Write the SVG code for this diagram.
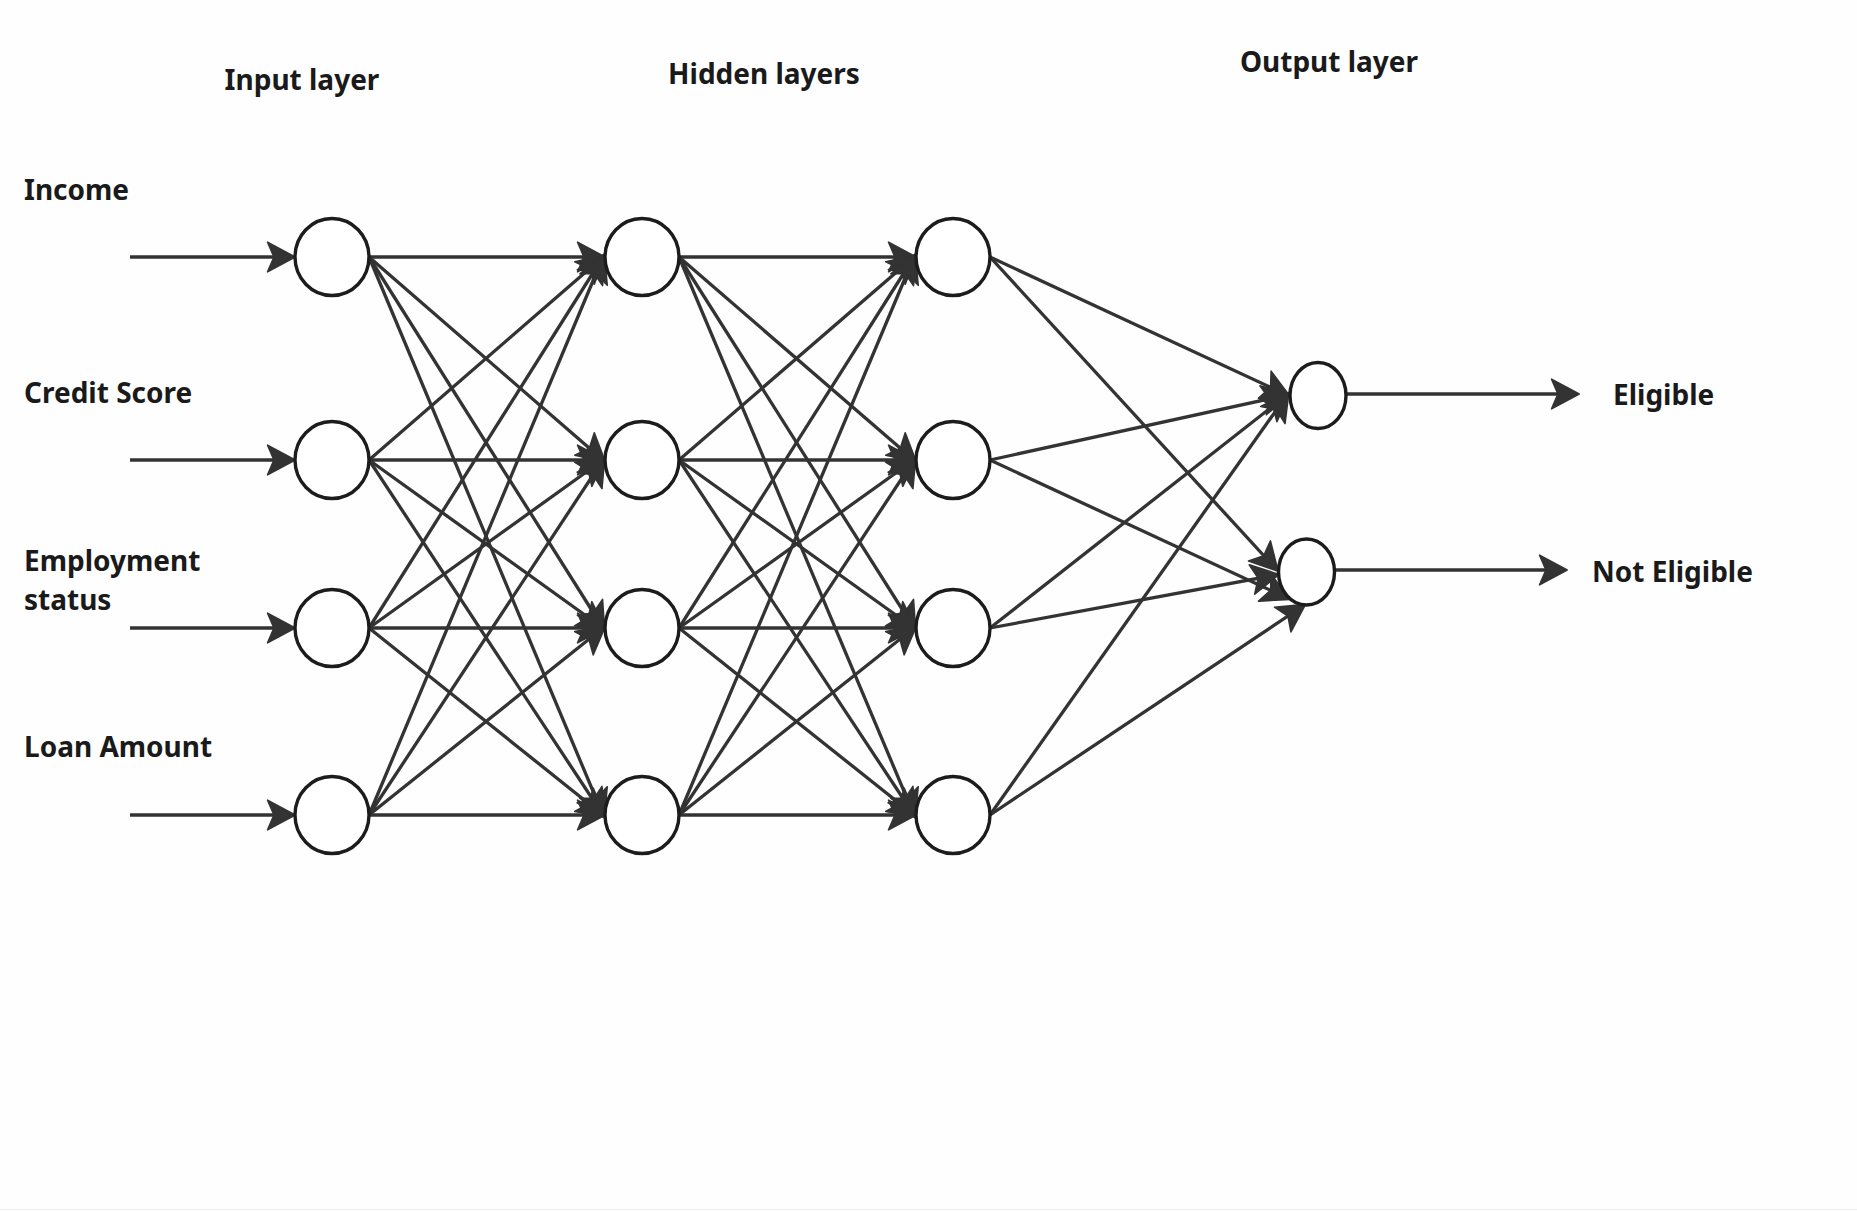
<svg xmlns="http://www.w3.org/2000/svg" width="1857" height="1211" viewBox="0 0 1857 1211">
<style>
  .bg { fill: #fefefe; }
  .node { fill: #ffffff; stroke: #1c1c1c; stroke-width: 3.4; }
  .c { fill: none; stroke: #333333; stroke-width: 3.3; marker-end: url(#ah); }
  .lbl { font-family: "Noto Sans", "Open Sans", "Liberation Sans", sans-serif; font-weight: 700; font-size: 28px; fill: #1a1a1a; }
  .mid { text-anchor: middle; }
</style>
<defs>
  <marker id="ah" markerUnits="userSpaceOnUse" markerWidth="34" markerHeight="34" viewBox="-26 -16 32 32" refX="0" refY="0" orient="auto">
    <path d="M3,0 L-23,-14 L-17,0 L-23,14 Z" fill="#333333" stroke="#333333" stroke-width="1.5" stroke-linejoin="round"/>
  </marker>
</defs>
<rect class="bg" x="0" y="0" width="1857" height="1211"/>
<line x1="0" y1="1209.5" x2="1857" y2="1209.5" stroke="#eeeeee" stroke-width="1"/>

<g id="headers">
  <text class="lbl mid" x="302" y="90">Input layer</text>
  <text class="lbl mid" x="764" y="84">Hidden layers</text>
  <text class="lbl mid" x="1329" y="72">Output layer</text>
</g>

<g id="input-labels">
  <text class="lbl" x="24" y="200">Income</text>
  <text class="lbl" x="24" y="403">Credit Score</text>
  <text class="lbl" x="24" y="571">Employment</text>
  <text class="lbl" x="24" y="610">status</text>
  <text class="lbl" x="24" y="757">Loan Amount</text>
</g>

<g id="output-labels">
  <text class="lbl" x="1613" y="405">Eligible</text>
  <text class="lbl" x="1592" y="582">Not Eligible</text>
</g>

<g id="connectors">
  <!-- inputs -->
  <path class="c" d="M130,257 L292,257"/>
  <path class="c" d="M130,460 L292,460"/>
  <path class="c" d="M130,628 L292,628"/>
  <path class="c" d="M130,815 L292,815"/>
  <!-- input -> hidden 1 -->
  <path class="c" d="M369,257 L602,257"/>
  <path class="c" d="M369,257 L603,460"/>
  <path class="c" d="M369,257 L603,628"/>
  <path class="c" d="M369,257 L603,815"/>
  <path class="c" d="M369,460 L603,257"/>
  <path class="c" d="M369,460 L602,460"/>
  <path class="c" d="M369,460 L603,628"/>
  <path class="c" d="M369,460 L603,815"/>
  <path class="c" d="M369,628 L603,257"/>
  <path class="c" d="M369,628 L603,460"/>
  <path class="c" d="M369,628 L602,628"/>
  <path class="c" d="M369,628 L603,815"/>
  <path class="c" d="M369,815 L603,257"/>
  <path class="c" d="M369,815 L603,460"/>
  <path class="c" d="M369,815 L603,628"/>
  <path class="c" d="M369,815 L602,815"/>
  <!-- hidden 1 -> hidden 2 -->
  <path class="c" d="M679,257 L913,257"/>
  <path class="c" d="M679,257 L914,460"/>
  <path class="c" d="M679,257 L914,628"/>
  <path class="c" d="M679,257 L914,815"/>
  <path class="c" d="M679,460 L914,257"/>
  <path class="c" d="M679,460 L913,460"/>
  <path class="c" d="M679,460 L914,628"/>
  <path class="c" d="M679,460 L914,815"/>
  <path class="c" d="M679,628 L914,257"/>
  <path class="c" d="M679,628 L914,460"/>
  <path class="c" d="M679,628 L913,628"/>
  <path class="c" d="M679,628 L914,815"/>
  <path class="c" d="M679,815 L914,257"/>
  <path class="c" d="M679,815 L914,460"/>
  <path class="c" d="M679,815 L914,628"/>
  <path class="c" d="M679,815 L913,815"/>
  <!-- hidden 2 -> output -->
  <path class="c" d="M990,257 L1287,395"/>
  <path class="c" d="M990,257 L1276,569"/>
  <path class="c" d="M990,460 L1287,395"/>
  <path class="c" d="M990,460 L1287,598"/>
  <path class="c" d="M990,628 L1287,395"/>
  <path class="c" d="M990,628 L1276,575"/>
  <path class="c" d="M990,815 L1287,395"/>
  <path class="c" d="M990,815 L1303,606"/>
  <!-- outputs -->
  <path class="c" d="M1346,394 L1576,394"/>
  <path class="c" d="M1334,570 L1564,570"/>
</g>

<g id="in1"><ellipse class="node" cx="332" cy="257" rx="37" ry="38.5"/></g>
<g id="in2"><ellipse class="node" cx="332" cy="460" rx="37" ry="38.5"/></g>
<g id="in3"><ellipse class="node" cx="332" cy="628" rx="37" ry="38.5"/></g>
<g id="in4"><ellipse class="node" cx="332" cy="815" rx="37" ry="38.5"/></g>

<g id="h1n1"><ellipse class="node" cx="642" cy="257" rx="37" ry="38.5"/></g>
<g id="h1n2"><ellipse class="node" cx="642" cy="460" rx="37" ry="38.5"/></g>
<g id="h1n3"><ellipse class="node" cx="642" cy="628" rx="37" ry="38.5"/></g>
<g id="h1n4"><ellipse class="node" cx="642" cy="815" rx="37" ry="38.5"/></g>

<g id="h2n1"><ellipse class="node" cx="953" cy="257" rx="37" ry="38.5"/></g>
<g id="h2n2"><ellipse class="node" cx="953" cy="460" rx="37" ry="38.5"/></g>
<g id="h2n3"><ellipse class="node" cx="953" cy="628" rx="37" ry="38.5"/></g>
<g id="h2n4"><ellipse class="node" cx="953" cy="815" rx="37" ry="38.5"/></g>

<g id="out1"><ellipse class="node" cx="1318" cy="395.5" rx="28" ry="33"/></g>
<g id="out2"><ellipse class="node" cx="1306.5" cy="572" rx="28" ry="33"/></g>
</svg>
